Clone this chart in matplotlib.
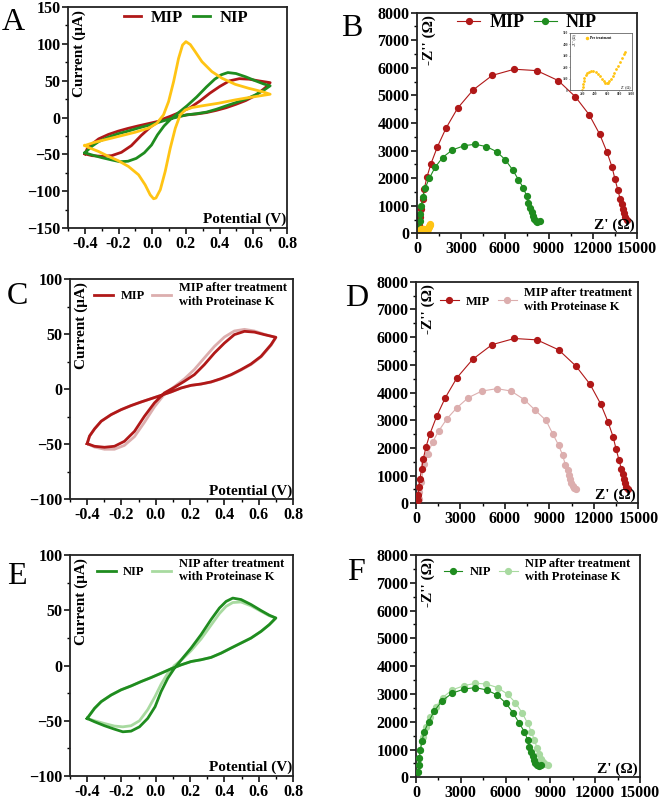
import matplotlib
matplotlib.use('Agg')
import matplotlib.pyplot as plt
from matplotlib.ticker import MultipleLocator

plt.rcParams['font.family'] = ['Liberation Serif', 'DejaVu Serif']
plt.rcParams['font.weight'] = 'bold'

# ---------------- CV data (closed loops: potential in V, current in uA) ----------------
cv_mip_E = [-0.40, -0.357, -0.299, -0.241, -0.183, -0.124, -0.066, -0.008, 0.05, 0.109, 0.167, 0.225,
            0.283, 0.342, 0.40, 0.458, 0.517, 0.575, 0.633, 0.70, 0.672, 0.614, 0.555, 0.497, 0.439,
            0.381, 0.322, 0.264, 0.206, 0.148, 0.089, 0.031, -0.027, -0.085, -0.144, -0.202, -0.26,
            -0.318, -0.357, -0.386, -0.40]
cv_mip_I = [-49.4, -51.8, -52.7, -51.8, -47.3, -38.2, -24.5, -12.4, -3.3, 1.8, 7.3, 13.3,
            22.4, 33.0, 42.0, 49.7, 52.7, 52.0, 49.7, 47.3, 40.6, 30.0, 23.0, 17.9, 13.3,
            9.7, 6.7, 4.8, 3.6, 1.2, -2.4, -5.5, -8.5, -11.5, -14.8, -18.5, -23.0,
            -29.0, -36.0, -42.5, -49.4]
cv_mipK_I = [-49.4, -52.5, -54.5, -54.5, -51.0, -43.0, -30.0, -16.0, -4.5, 2.5, 9.5, 18.0,
             28.5, 39.0, 47.5, 53.0, 54.5, 53.0, 50.0, 47.0, 40.0, 29.5, 22.5, 17.5, 13.0,
             9.5, 6.5, 4.8, 3.6, 1.2, -2.4, -5.5, -8.5, -11.5, -14.8, -18.5, -23.0,
             -29.0, -36.0, -42.5, -49.4]

cv_nip_E = [-0.40, -0.357, -0.299, -0.241, -0.192, -0.144, -0.095, -0.047, -0.004, 0.031, 0.07, 0.109,
            0.157, 0.206, 0.264, 0.322, 0.371, 0.41, 0.449, 0.497, 0.555, 0.614, 0.662, 0.70,
            0.662, 0.614, 0.555, 0.497, 0.439, 0.381, 0.322, 0.264, 0.206, 0.148, 0.089, 0.031,
            -0.027, -0.085, -0.144, -0.202, -0.26, -0.318, -0.357, -0.40]
cv_nip_I = [-47.9, -50.9, -54.5, -57.6, -60.0, -59.4, -55.5, -47.9, -37.3, -23.6, -11.5, -2.4,
            6.7, 15.8, 27.9, 41.5, 52.0, 58.0, 61.0, 59.7, 55.2, 49.7, 45.5, 43.0,
            37.0, 30.9, 24.8, 20.3, 15.8, 11.2, 7.3, 5.2, 3.6, 0.6, -3.0, -7.0,
            -10.9, -14.5, -18.5, -22.0, -26.7, -32.7, -38.8, -47.9]
cv_nipK_I = [-47.9, -50.0, -52.5, -54.8, -55.5, -54.5, -50.0, -40.0, -28.0, -17.0, -7.0, 0.0,
             6.0, 13.5, 24.0, 36.5, 47.0, 53.5, 57.0, 57.5, 54.0, 49.0, 45.0, 43.0,
             37.0, 30.9, 24.8, 20.3, 15.8, 11.2, 7.3, 5.2, 3.6, 0.6, -3.0, -7.0,
             -10.9, -14.5, -18.5, -22.0, -26.7, -32.7, -38.8, -47.9]

cv_bare_E = [-0.40, -0.339, -0.259, -0.18, -0.101, -0.022, 0.028, 0.067, 0.097, 0.127, 0.156, 0.18,
             0.20, 0.226, 0.255, 0.295, 0.354, 0.414, 0.493, 0.572, 0.651, 0.70, 0.651, 0.572,
             0.493, 0.394, 0.295, 0.236, 0.196, 0.166, 0.137, 0.107, 0.077, 0.048, 0.022, 0.008,
             -0.012, -0.042, -0.081, -0.141, -0.20, -0.259, -0.319, -0.378, -0.40]
cv_bare_I = [-38.0, -33.5, -29.0, -24.5, -20.0, -14.5, -7.7, 3.6, 21.6, 48.8, 80.0, 98.4,
             103.0, 99.0, 89.4, 75.8, 62.3, 53.3, 45.0, 39.7, 35.2, 31.6, 29.8, 27.0,
             23.9, 19.4, 15.8, 13.5, 10.3, 3.6, -14.5, -41.6, -73.2, -98.0, -109.3, -110.3,
             -105.0, -91.4, -77.8, -66.5, -58.8, -52.9, -46.1, -40.7, -38.0]

# ---------------- EIS data (Z' and -Z'' in Ohm) ----------------
eis_mip_zr = [112, 135, 202, 270, 382, 495, 675, 945, 1394, 1979, 2766, 3823, 5128, 6635, 8164,
              9626, 10800, 11740, 12450, 12950, 13300, 13500, 13700, 13850, 13960, 14050, 14130,
              14200, 14300]
eis_mip_zi = [108, 313, 590, 890, 1251, 1612, 2033, 2514, 3140, 3814, 4535, 5197, 5726, 5950, 5900,
              5540, 4950, 4300, 3600, 2950, 2400, 1960, 1560, 1250, 1050, 870, 720, 600, 500]
eis_mipK_zr = [180, 225, 337, 562, 787, 1124, 1529, 2092, 2766, 3531, 4453, 5465, 6410, 7309, 8051,
               8771, 9221, 9626, 9896, 10075, 10233, 10323, 10390, 10480, 10570, 10683, 10795]
eis_mipK_zi = [168, 409, 770, 1432, 1792, 2214, 2610, 3056, 3453, 3814, 4054, 4138, 4054, 3741, 3356,
               2995, 2514, 2093, 1732, 1395, 1191, 1010, 866, 734, 625, 553, 505]
eis_nip_zr = [134, 179, 223, 290, 402, 558, 848, 1228, 1741, 2411, 3236, 3973, 4732, 5424, 6026,
              6517, 6919, 7254, 7477, 7589, 7700, 7812, 7924, 7991, 8080, 8214, 8370]
eis_nip_zi = [204, 444, 684, 984, 1308, 1644, 2004, 2388, 2748, 3024, 3180, 3228, 3144, 2964, 2664,
              2304, 1944, 1644, 1344, 1104, 924, 768, 624, 504, 444, 420, 444]
eis_nipK_zr = [134, 179, 223, 290, 402, 491, 670, 937, 1339, 1786, 2411, 3236, 3973, 4687, 5468,
               6138, 6651, 7098, 7477, 7720, 7924, 8102, 8258, 8392, 8526, 8660, 8816]
eis_nipK_zi = [204, 444, 684, 984, 1308, 1464, 1824, 2184, 2544, 2868, 3144, 3300, 3384, 3360, 3228,
               2988, 2688, 2328, 1944, 1640, 1344, 1068, 828, 660, 540, 468, 444]
eis_bare_zr = [200, 205, 212, 222, 235, 255, 280, 310, 345, 380, 415, 450, 485, 520, 550, 575, 595,
               615, 635, 660, 690, 720, 750, 780, 810, 840, 870, 885]
eis_bare_zi = [0, 25, 50, 80, 105, 130, 148, 160, 165, 163, 155, 140, 120, 98, 78, 64, 58,
               62, 75, 95, 120, 150, 180, 210, 240, 275, 310, 330]

RED = '#b01818'
PINK = '#dcaeae'
GREEN = '#1f8c1f'
LGREEN = '#a8daa0'
YELLOW = '#ffc414'

fig = plt.figure(figsize=(6.61, 8.01), dpi=100)
W, H = 661.0, 801.0


def make_ax(l, t, r, b):
    return fig.add_axes([l / W, 1 - b / H, (r - l) / W, (b - t) / H])


TICKFS = 11.5
LABFS = 11


def style(ax):
    for s in ax.spines.values():
        s.set_linewidth(1.3)
        s.set_color('#222222')
    ax.tick_params(which='major', direction='out', length=4, width=1.1, labelsize=TICKFS, pad=1.5)
    ax.tick_params(which='minor', direction='out', length=2.2, width=1.0)
    for lab in ax.get_xticklabels() + ax.get_yticklabels():
        lab.set_fontweight('bold')


def cv_axes(ax, ylim, ymaj):
    ax.set_xlim(-0.5, 0.8)
    ax.set_ylim(*ylim)
    ax.xaxis.set_major_locator(MultipleLocator(0.2))
    ax.xaxis.set_minor_locator(MultipleLocator(0.1))
    ax.yaxis.set_major_locator(MultipleLocator(ymaj))
    ax.yaxis.set_minor_locator(MultipleLocator(ymaj / 2))
    ax.set_xticks([-0.4, -0.2, 0.0, 0.2, 0.4, 0.6, 0.8])
    ax.set_xticklabels(['-0.4', '-0.2', '0.0', '0.2', '0.4', '0.6', '0.8'])
    style(ax)
    ax.text(0.02, 0.985, 'Current (\u03bcA)', transform=ax.transAxes, rotation=90,
            ha='left', va='top', fontsize=LABFS, fontweight='bold')
    ax.text(0.995, 0.008, 'Potential (V)', transform=ax.transAxes,
            ha='right', va='bottom', fontsize=LABFS, fontweight='bold')


def eis_axes(ax):
    ax.set_xlim(0, 15000)
    ax.set_ylim(0, 8000)
    ax.set_xticks([0, 3000, 6000, 9000, 12000, 15000])
    ax.xaxis.set_minor_locator(MultipleLocator(1500))
    ax.yaxis.set_major_locator(MultipleLocator(1000))
    ax.yaxis.set_minor_locator(MultipleLocator(500))
    style(ax)
    ax.text(0.025, 0.99, "-Z'' (\u03a9)", transform=ax.transAxes, rotation=90,
            ha='left', va='top', fontsize=LABFS, fontweight='bold')
    ax.text(0.99, 0.008, "Z' (\u03a9)", transform=ax.transAxes,
            ha='right', va='bottom', fontsize=LABFS, fontweight='bold')


def letter(x, y, s):
    fig.text(x / W, 1 - y / H, s, fontsize=23, fontweight='normal', ha='center', va='center')


LW = 2.0
MS = 4.2

# ---------------- Panel A ----------------
axA = make_ax(68, 7, 287, 228)
axA.plot(cv_mip_E, cv_mip_I, color=RED, lw=LW, label='MIP')
axA.plot(cv_nip_E, cv_nip_I, color=GREEN, lw=LW, label='NIP')
axA.plot(cv_bare_E, cv_bare_I, color=YELLOW, lw=LW)
cv_axes(axA, (-150, 150), 50)
h, l = axA.get_legend_handles_labels()
axA.legend(h, l, loc='center', bbox_to_anchor=(0.54, 0.95), ncol=2, frameon=False,
           prop={'weight': 'bold', 'size': 12}, handlelength=1.0, handletextpad=0.6,
           columnspacing=0.6, borderpad=0.1)
letter(13, 22, 'A')

# ---------------- Panel B ----------------
axB = make_ax(417, 12.7, 637, 233.3)
axB.plot(eis_mip_zr, eis_mip_zi, '-o', color=RED, lw=0.8, ms=MS, label='MIP')
axB.plot(eis_nip_zr, eis_nip_zi, '-o', color=GREEN, lw=0.8, ms=MS, label='NIP')
axB.plot(eis_bare_zr, eis_bare_zi, 'o', color=YELLOW, ms=MS)
eis_axes(axB)
h, l = axB.get_legend_handles_labels()
axB.legend(h, l, loc='center', bbox_to_anchor=(0.5, 0.955), ncol=2, frameon=False,
           prop={'weight': 'bold', 'size': 13}, handlelength=1.3, handletextpad=0.5,
           columnspacing=0.5, borderpad=0.1)
letter(352, 28, 'B')

# inset
axI = fig.add_axes([570 / W, 1 - 90 / H, 61.7 / W, 57.3 / H])
axI.plot(eis_bare_zr, eis_bare_zi, 'o', color=YELLOW, ms=1.0, label='Pre treatment')
axI.set_xlim(0, 1000)
axI.set_ylim(0, 500)
axI.set_xticks([200, 400, 600, 800, 1000])
axI.set_yticks([0, 100, 200, 300, 400, 500])
for s in axI.spines.values():
    s.set_linewidth(0.6)
    s.set_color('#666666')
axI.tick_params(labelsize=2.6, length=1, width=0.4, pad=0.5, colors='#444444')
axI.text(0.03, 0.98, "-Z'' (\u03a9)", transform=axI.transAxes, rotation=90, ha='left', va='top',
         fontsize=2.6, color='#444444')
axI.text(0.98, 0.02, "Z' (\u03a9)", transform=axI.transAxes, ha='right', va='bottom',
         fontsize=2.6, color='#444444')
axI.legend(loc='upper left', bbox_to_anchor=(0.2, 1.0), frameon=False, prop={'size': 2.6},
           handlelength=0.8, handletextpad=0.3, markerscale=1.5)

# ---------------- Panel C ----------------
axC = make_ax(70, 279.3, 293, 499.3)
axC.plot(cv_mip_E, cv_mipK_I, color=PINK, lw=LW, label='MIP after treatment\nwith Proteinase K', zorder=2)
axC.plot(cv_mip_E, cv_mip_I, color=RED, lw=LW, label='MIP', zorder=3)
cv_axes(axC, (-100, 100), 50)
h, l = axC.get_legend_handles_labels()
axC.legend(h[::-1], l[::-1], loc='center', bbox_to_anchor=(0.54, 0.93), ncol=2, frameon=False,
           prop={'weight': 'bold', 'size': 9}, handlelength=1.5, handletextpad=0.6,
           columnspacing=0.6, borderpad=0.1)
letter(17, 297, 'C')

# ---------------- Panel D ----------------
axD = make_ax(416, 281.7, 638.3, 503.3)
axD.plot(eis_mipK_zr, eis_mipK_zi, '-o', color=PINK, lw=0.8, ms=MS,
         label='MIP after treatment\nwith Proteinase K', zorder=2)
axD.plot(eis_mip_zr, eis_mip_zi, '-o', color=RED, lw=0.8, ms=MS, label='MIP', zorder=3)
eis_axes(axD)
h, l = axD.get_legend_handles_labels()
axD.legend(h[::-1], l[::-1], loc='center', bbox_to_anchor=(0.54, 0.917), ncol=2, frameon=False,
           prop={'weight': 'bold', 'size': 9}, handlelength=1.5, handletextpad=0.6,
           columnspacing=0.6, borderpad=0.1)
letter(357, 298, 'D')

# ---------------- Panel E ----------------
axE = make_ax(70, 555, 293, 776)
axE.plot(cv_nip_E, cv_nipK_I, color=LGREEN, lw=LW, label='NIP after treatment\nwith Proteinase K', zorder=2)
axE.plot(cv_nip_E, cv_nip_I, color=GREEN, lw=LW, label='NIP', zorder=3)
cv_axes(axE, (-100, 100), 50)
h, l = axE.get_legend_handles_labels()
axE.legend(h[::-1], l[::-1], loc='center', bbox_to_anchor=(0.54, 0.93), ncol=2, frameon=False,
           prop={'weight': 'bold', 'size': 9}, handlelength=1.5, handletextpad=0.6,
           columnspacing=0.6, borderpad=0.1)
letter(17, 577, 'E')

# ---------------- Panel F ----------------
axF = make_ax(416, 555, 640, 777.3)
axF.plot(eis_nipK_zr, eis_nipK_zi, '-o', color=LGREEN, lw=0.8, ms=MS,
         label='NIP after treatment\nwith Proteinase K', zorder=2)
axF.plot(eis_nip_zr, eis_nip_zi, '-o', color=GREEN, lw=0.8, ms=MS, label='NIP', zorder=3)
eis_axes(axF)
h, l = axF.get_legend_handles_labels()
axF.legend(h[::-1], l[::-1], loc='center', bbox_to_anchor=(0.54, 0.93), ncol=2, frameon=False,
           prop={'weight': 'bold', 'size': 9}, handlelength=1.5, handletextpad=0.6,
           columnspacing=0.6, borderpad=0.1)
letter(356, 573, 'F')

fig.savefig('out.png', dpi=100)
